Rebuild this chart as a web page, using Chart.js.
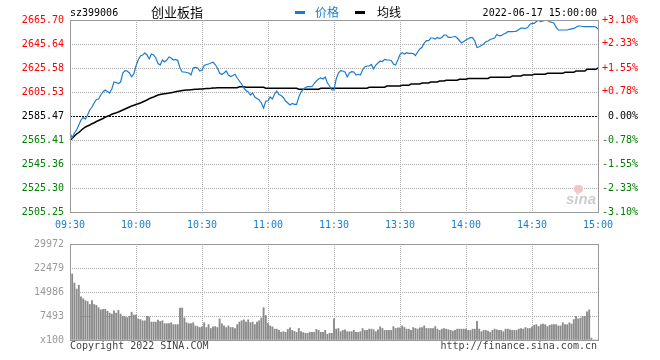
<!DOCTYPE html>
<html>
<head>
<meta charset="utf-8">
<script src="https://cdn.jsdelivr.net/npm/chart.js@4/dist/chart.umd.min.js"></script>
<style>
  body { margin: 0; background: #fff; }
  #wrap { position: relative; width: 660px; height: 360px; overflow: hidden; }
  #wrap canvas { position: absolute; left: 0; }
  .t { position: absolute; white-space: nowrap; line-height: 10px; font-family: 'DejaVu Sans Mono', monospace; font-size: 10px; }
  .cjk { position: absolute; white-space: nowrap; font-family: 'Noto Sans CJK SC', sans-serif; }
</style>
</head>
<body>
<div id="wrap">
  <canvas id="priceChart" width="660" height="232" style="top:0"></canvas>
  <canvas id="volChart" width="660" height="128" style="top:232px"></canvas>

  <span class="t" style="left:70px;top:8px;color:#000">sz399006</span>
  <span class="cjk" style="left:151px;top:5px;font-size:13px;line-height:13px;color:#000">创业板指</span>
  <div style="position:absolute;left:295px;top:11px;width:10px;height:3px;background:#1a7dd0"></div>
  <span class="cjk" style="left:315px;top:6px;font-size:12px;line-height:12px;color:#1a7dd0">价格</span>
  <div style="position:absolute;left:355px;top:11px;width:10px;height:3px;background:#000"></div>
  <span class="cjk" style="left:377px;top:6px;font-size:12px;line-height:12px;color:#000">均线</span>
  <span class="t" style="right:63px;top:8px;color:#000">2022-06-17 15:00:00</span>

  <div style="position:absolute;left:574px;top:185px;width:9px;height:8px;border-radius:5px;background:#f3c6c6"></div>
  <span style="position:absolute;left:566px;top:191px;font:italic bold 15px 'Liberation Sans',sans-serif;line-height:15px;color:#cdcdcd">sina</span>

  <span class="t" style="left:70px;top:341px;color:#444">Copyright 2022 SINA.COM</span>
  <span class="t" style="right:63px;top:341px;color:#444">http://finance.sina.com.cn</span>
</div>

<script>
// --- data ---
const prevClose = 2585.47;

const priceTicks = [2505.25, 2525.30, 2545.36, 2565.41, 2585.47, 2605.53, 2625.58, 2645.64, 2665.70];
const pctTicks = [-3.10, -2.33, -1.55, -0.78, 0, 0.78, 1.55, 2.33, 3.10];
const timeTicks = ['09:30', '10:00', '10:30', '11:00', '11:30', '13:30', '14:00', '14:30', '15:00'];
const volTicks = [0, 7493, 14986, 22479, 29972];

// 分時価格 (1分ごと, 241本)
const price = [
  2571.26, 2567.33, 2571.26, 2573.77, 2577.95, 2582.13, 2584.38, 2582.96, 2586.31, 2590.48,
  2592.99, 2596.33, 2599.26, 2599.68, 2603.02, 2605.53, 2607.20, 2605.95, 2604.69, 2608.03,
  2613.88, 2613.47, 2612.63, 2613.88, 2621.41, 2623.33, 2623.08, 2621.41, 2618.31, 2620.57,
  2627.26, 2632.27, 2635.61, 2636.45, 2638.12, 2636.45, 2633.11, 2637.29, 2636.45, 2633.94,
  2629.35, 2628.09, 2632.27, 2630.60, 2632.27, 2634.78, 2633.94, 2632.27, 2632.69, 2631.85,
  2625.59, 2622.24, 2622.24, 2621.82, 2621.41, 2619.73, 2625.59, 2626.17, 2625.59, 2623.08,
  2623.91, 2627.67, 2628.51, 2628.93, 2629.76, 2630.35, 2628.51, 2625.59, 2621.41, 2620.15,
  2621.41, 2623.08, 2619.73, 2618.48, 2619.32, 2620.32, 2617.23, 2614.72, 2612.21, 2608.87,
  2606.78, 2605.53, 2603.02, 2604.69, 2601.35, 2600.10, 2598.84, 2596.33, 2592.16, 2598.01,
  2598.01, 2601.35, 2599.68, 2603.86, 2606.36, 2603.44, 2602.60, 2600.76, 2598.01, 2596.33,
  2594.66, 2595.92, 2595.25, 2595.25, 2601.35, 2605.53, 2607.62, 2609.29, 2609.96, 2609.96,
  2610.12, 2612.63, 2614.72, 2616.39, 2617.23, 2616.39, 2618.06, 2613.05, 2610.54, 2607.20,
  2607.20, 2616.39, 2621.41, 2623.33, 2623.08, 2622.24, 2618.06, 2621.41, 2622.49, 2622.24,
  2619.73, 2620.32, 2619.73, 2623.91, 2626.42, 2627.26, 2627.26, 2628.51, 2624.75, 2628.09,
  2629.76, 2631.44, 2631.02, 2632.86, 2632.44, 2632.27, 2631.85, 2628.93, 2628.09, 2632.27,
  2636.87, 2638.37, 2637.29, 2638.37, 2637.87, 2637.87, 2637.70, 2636.03, 2638.96, 2641.46,
  2642.88, 2646.48, 2648.40, 2648.40, 2650.66, 2650.66, 2649.82, 2651.07, 2650.24, 2651.07,
  2653.16, 2653.16, 2651.24, 2651.24, 2651.49, 2652.08, 2650.66, 2648.57, 2646.48, 2647.73,
  2648.99, 2649.99, 2650.91, 2650.91, 2648.15, 2642.72, 2643.39, 2644.39, 2645.64, 2647.56,
  2648.15, 2649.40, 2650.07, 2650.66, 2653.58, 2652.58, 2652.58, 2653.75, 2654.58, 2655.92,
  2655.92, 2655.92, 2656.09, 2656.34, 2657.76, 2658.85, 2658.85, 2658.60, 2659.43, 2661.94,
  2662.94, 2662.94, 2664.45, 2665.53, 2664.45, 2664.86, 2665.45, 2665.45, 2664.20, 2663.78,
  2662.94, 2659.43, 2657.34, 2657.34, 2657.34, 2657.34, 2657.34, 2657.93, 2658.35, 2658.76,
  2659.60, 2660.69, 2660.69, 2660.27, 2660.10, 2660.10, 2660.10, 2660.10, 2660.10, 2659.85,
  2658.18
];

// 均線
const avgPrice = [
  2565.41, 2566.67, 2568.76, 2570.43, 2571.68, 2573.35, 2575.02, 2576.28, 2577.11, 2577.95,
  2579.03, 2579.87, 2580.87, 2581.71, 2582.54, 2583.38, 2584.47, 2585.22, 2586.05, 2586.89,
  2587.56, 2588.14, 2588.81, 2589.65, 2590.48, 2591.32, 2592.16, 2592.99, 2593.83, 2594.41,
  2595.08, 2595.67, 2596.33, 2597.17, 2598.01, 2598.84, 2599.93, 2600.68, 2601.35, 2602.18,
  2603.02, 2603.44, 2603.86, 2604.11, 2604.36, 2604.61, 2604.94, 2605.28, 2605.69, 2606.11,
  2606.45, 2606.70, 2606.95, 2607.12, 2607.28, 2607.45, 2607.62, 2607.78, 2607.87, 2607.95,
  2608.03, 2608.20, 2608.37, 2608.54, 2608.62, 2608.79, 2608.95, 2609.12, 2609.12, 2609.12,
  2609.12, 2609.12, 2609.12, 2609.12, 2609.12, 2609.12, 2609.12, 2609.87, 2609.87, 2609.87,
  2609.45, 2609.45, 2609.45, 2609.45, 2609.45, 2609.45, 2609.45, 2609.45, 2609.45, 2608.70,
  2608.70, 2608.70, 2608.70, 2608.70, 2608.70, 2608.70, 2608.70, 2608.70, 2608.70, 2608.70,
  2608.70, 2608.70, 2608.70, 2608.70, 2607.87, 2607.87, 2607.87, 2607.87, 2607.87, 2607.87,
  2607.87, 2607.87, 2607.87, 2607.87, 2608.62, 2608.62, 2608.62, 2608.62, 2608.62, 2608.62,
  2608.62, 2608.62, 2608.62, 2608.62, 2608.62, 2608.62, 2608.62, 2608.62, 2608.62, 2608.62,
  2608.62, 2608.62, 2608.62, 2608.62, 2608.62, 2608.62, 2609.45, 2609.45, 2609.45, 2609.45,
  2609.45, 2609.45, 2609.45, 2609.45, 2610.54, 2610.54, 2610.54, 2610.54, 2610.54, 2610.54,
  2610.54, 2611.13, 2611.13, 2611.13, 2611.13, 2612.21, 2612.21, 2612.21, 2612.21, 2612.21,
  2613.05, 2613.05, 2613.05, 2613.05, 2613.88, 2613.88, 2613.88, 2613.88, 2614.72, 2614.72,
  2614.72, 2615.31, 2615.31, 2615.31, 2615.31, 2615.31, 2615.31, 2616.14, 2616.14, 2616.14,
  2616.14, 2616.81, 2616.81, 2616.81, 2616.81, 2616.81, 2616.81, 2616.81, 2616.81, 2616.81,
  2616.81, 2617.81, 2617.81, 2617.81, 2617.81, 2617.81, 2617.81, 2617.81, 2617.81, 2617.81,
  2617.81, 2618.90, 2618.90, 2618.90, 2618.90, 2618.90, 2619.73, 2619.73, 2619.73, 2619.73,
  2619.73, 2620.32, 2620.32, 2620.32, 2620.32, 2620.32, 2620.32, 2621.15, 2621.15, 2621.15,
  2621.15, 2621.15, 2621.15, 2621.15, 2621.15, 2621.99, 2621.99, 2621.99, 2621.99, 2621.99,
  2623.08, 2623.08, 2623.08, 2623.08, 2623.08, 2624.50, 2624.50, 2624.50, 2624.50, 2624.50,
  2625.58
];

// 出来高 (x100)
const volume = [
  29972, 20600, 17800, 15900, 17100, 13500, 12900, 12300, 12000, 11100,
  12300, 11100, 10800, 10100, 9400, 9600, 9600, 9000, 8400, 8100,
  9100, 8400, 9300, 8100, 7400, 7200, 7000, 7400, 8700, 7800,
  7800, 6600, 6400, 6000, 6000, 7400, 7200, 5600, 5600, 5600,
  6200, 5800, 6000, 5100, 5100, 5100, 5400, 4800, 4800, 4800,
  10000, 10000, 6900, 5400, 5100, 5100, 5400, 4400, 4200, 3900,
  4100, 5400, 3900, 4800, 3600, 4100, 4200, 3900, 6600, 5100,
  4400, 3900, 4400, 3900, 3900, 3600, 4800, 5600, 6000, 6300,
  5600, 6300, 5400, 5600, 4800, 5600, 6000, 6900, 10100, 7600,
  5100, 4400, 4100, 3400, 3400, 3000, 2400, 2600, 2400, 3300,
  3800, 3000, 2700, 2400, 3600, 2600, 2300, 2100, 2100, 2400,
  2400, 2400, 3300, 3000, 2400, 2400, 3000, 1800, 2100, 2100,
  6600, 3400, 3600, 2600, 3000, 3200, 2600, 2600, 2600, 3000,
  2400, 2400, 2600, 3600, 3000, 3000, 3400, 3400, 3200, 2600,
  3200, 4100, 3600, 3000, 3000, 3000, 3000, 4200, 3600, 3800,
  3800, 4400, 3900, 3400, 3400, 3000, 3900, 3600, 3400, 3800,
  3900, 4400, 3600, 3600, 3600, 3600, 4200, 3400, 3000, 3400,
  3600, 3400, 3200, 3000, 2800, 3000, 3400, 3400, 3400, 3400,
  3400, 3000, 3000, 3400, 3400, 5800, 3400, 2600, 3000, 3000,
  2800, 2400, 3000, 3400, 3200, 3000, 3000, 2600, 3400, 3400,
  3200, 3000, 3000, 3000, 3400, 3600, 3400, 3900, 3600, 3600,
  4000, 4600, 4800, 4200, 4800, 5000, 4800, 4200, 4600, 4800,
  4800, 4800, 4400, 4400, 5400, 4800, 4800, 5400, 5000, 6400,
  7400, 6600, 6800, 7400, 7400, 8800, 9400, 600, 0, 0,
  0
];

const BLUE = '#1a7dd0';
const RED = '#ff0000';
const GREEN = '#008000';
const GRID = '#aaaaaa';
const MONO = { family: "'DejaVu Sans Mono', monospace", size: 10 };

const minutes = price.map((_, i) => i);

// 30分ごとの目盛りだけ残す
const keepHalfHours = s => { s.ticks = s.ticks.filter(t => t.value % 30 === 0); };

// 枠線 (chartArea の外周)
const framePlugin = {
    id: 'frame',
    afterDraw(chart) {
        const { ctx, chartArea: a } = chart;
        ctx.save();
        ctx.strokeStyle = '#999999';
        ctx.lineWidth = 1;
        ctx.strokeRect(a.left + 0.5, a.top + 0.5, a.right - a.left, a.bottom - a.top);
        ctx.restore();
    }
};

// 前日終値の破線
const prevClosePlugin = {
    id: 'prevClose',
    beforeDatasetsDraw(chart) {
        const { ctx, chartArea: a } = chart;
        const y = Math.round(chart.scales.y.getPixelForValue(prevClose)) + 0.5;
        ctx.save();
        ctx.strokeStyle = '#000';
        ctx.lineWidth = 1;
        ctx.setLineDash([2, 1]);
        ctx.beginPath();
        ctx.moveTo(a.left, y);
        ctx.lineTo(a.right, y);
        ctx.stroke();
        ctx.restore();
    }
};

const upDownColor = (v, base) => v > base ? RED : (v < base ? GREEN : '#000');

new Chart(document.getElementById('priceChart'), {
    type: 'line',
    data: {
        labels: minutes,
        datasets: [
            { label: '价格', data: price, borderColor: BLUE, borderWidth: 1.2, pointRadius: 0, tension: 0 },
            { label: '均线', data: avgPrice, borderColor: '#000', borderWidth: 1.5, pointRadius: 0, tension: 0 }
        ]
    },
    options: {
        responsive: false,
        animation: false,
        events: [],
        layout: { padding: { top: 20, right: 22, left: 0, bottom: 0 } },
        plugins: { legend: { display: false }, tooltip: { enabled: false } },
        scales: {
            x: {
                type: 'category',
                offset: false,
                afterBuildTicks: keepHalfHours,
                afterFit: s => { s.height = 20; },
                grid: { color: GRID, lineWidth: 1, drawTicks: false, offset: false, borderDash: [1, 1] },
                border: { display: false, dash: [1, 1] },
                ticks: {
                    autoSkip: false, maxRotation: 0, padding: 7,
                    color: BLUE, font: MONO,
                    callback: v => timeTicks[v / 30]
                }
            },
            y: {
                position: 'left',
                min: priceTicks[0],
                max: priceTicks[priceTicks.length - 1],
                afterBuildTicks: s => { s.ticks = priceTicks.map(v => ({ value: v })); },
                afterFit: s => { s.width = 70; },
                grid: {
                    color: c => (c.tick && c.tick.value === prevClose) ? 'rgba(0,0,0,0)' : GRID,
                    drawTicks: false, borderDash: [1, 1]
                },
                border: { display: false, dash: [1, 1] },
                ticks: {
                    padding: 6, font: MONO,
                    color: c => upDownColor(c.tick.value, prevClose),
                    callback: v => v.toFixed(2)
                }
            },
            pct: {
                position: 'right',
                min: pctTicks[0],
                max: pctTicks[pctTicks.length - 1],
                afterBuildTicks: s => { s.ticks = pctTicks.map(v => ({ value: v })); },
                afterFit: s => { s.width = 40; },
                grid: { display: false, drawTicks: false },
                border: { display: false },
                ticks: {
                    padding: 0, crossAlign: 'far', font: MONO,
                    color: c => upDownColor(c.tick.value, 0),
                    callback: v => (v > 0 ? '+' : '') + v.toFixed(2) + '%'
                }
            }
        }
    },
    plugins: [prevClosePlugin, framePlugin]
});

new Chart(document.getElementById('volChart'), {
    type: 'bar',
    data: {
        labels: minutes,
        datasets: [{ label: '成交量', data: volume, backgroundColor: '#8a8a8a', barThickness: 1.2 }]
    },
    options: {
        responsive: false,
        animation: false,
        events: [],
        layout: { padding: { top: 8, right: 62, left: 0, bottom: 20 } },
        plugins: { legend: { display: false }, tooltip: { enabled: false } },
        scales: {
            x: {
                type: 'category',
                offset: false,
                afterBuildTicks: keepHalfHours,
                afterFit: s => { s.height = 0; },
                grid: { color: GRID, drawTicks: false, offset: false, borderDash: [1, 1] },
                border: { display: false, dash: [1, 1] },
                ticks: { display: false, autoSkip: false }
            },
            y: {
                min: volTicks[0],
                max: volTicks[volTicks.length - 1],
                afterBuildTicks: s => { s.ticks = volTicks.map(v => ({ value: v })); },
                afterFit: s => { s.width = 70; },
                grid: { color: GRID, drawTicks: false, borderDash: [1, 1] },
                border: { display: false, dash: [1, 1] },
                ticks: {
                    padding: 6, font: MONO, color: '#999999',
                    callback: v => v === 0 ? 'x100' : String(v)
                }
            }
        }
    },
    plugins: [framePlugin]
});
</script>
</body>
</html>
